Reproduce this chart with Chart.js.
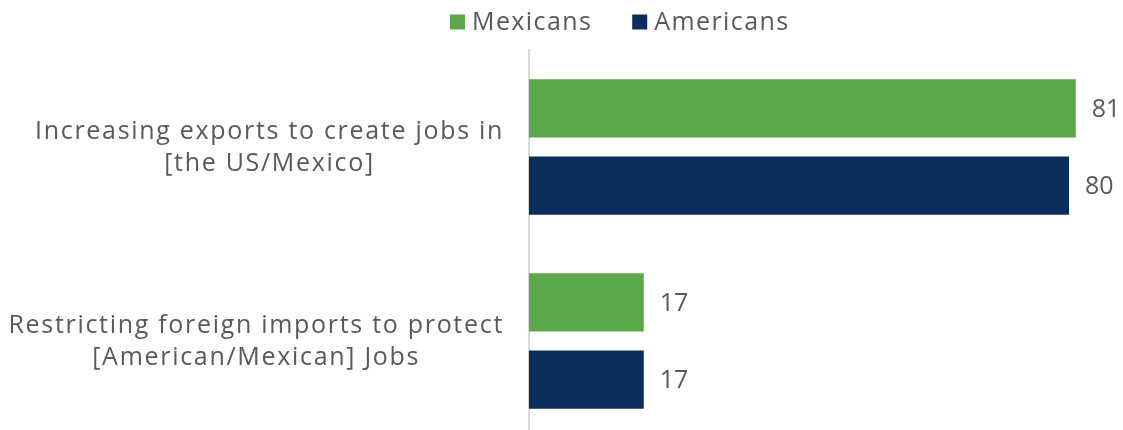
<!DOCTYPE html>
<html>
<head>
<meta charset="utf-8">
<script src="https://cdn.jsdelivr.net/npm/chart.js@4/dist/chart.umd.min.js"></script>
<style>
  html, body { margin: 0; padding: 0; background: #fff; overflow: hidden; }
  #wrap { position: relative; width: 1123px; height: 438px; }
</style>
</head>
<body>
<div id="wrap"><canvas id="chart"></canvas></div>
<script>
const categories = [
  ["Increasing exports to create jobs in", "[the US/Mexico]"],
  ["Restricting foreign imports to protect", "[American/Mexican] Jobs"],
];
const seriesNames = ["Mexicans", "Americans"];
const mexicans = [81, 17];
const americans = [80, 17];

const green = "#5ba84a";
const navy = "#0a2d5e";
const textColor = "#595959";
const fontFamily = "'Open Sans', sans-serif";

// category labels: each block right-aligned to the axis, lines centred within it
const categoryLabels = {
  id: "categoryLabels",
  afterDraw(chart) {
    const { ctx } = chart;
    const yScale = chart.scales.y;
    const right = yScale.right - 25;
    ctx.save();
    ctx.font = `25px ${fontFamily}`;
    ctx.letterSpacing = "1.7px";
    ctx.fillStyle = textColor;
    ctx.textAlign = "center";
    ctx.textBaseline = "middle";
    categories.forEach((lines, i) => {
      const y = yScale.getPixelForTick(i);
      const widest = Math.max(...lines.map((l) => ctx.measureText(l).width));
      const cx = right - widest / 2;
      const lineHeight = 32;
      lines.forEach((line, j) => {
        ctx.fillText(line, cx, y + 1 + (j - (lines.length - 1) / 2) * lineHeight);
      });
    });
    ctx.restore();
  },
};

// value labels to the right of every bar
const valueLabels = {
  id: "valueLabels",
  afterDatasetsDraw(chart) {
    const { ctx } = chart;
    ctx.save();
    ctx.font = `25px ${fontFamily}`;
    ctx.fillStyle = textColor;
    ctx.textAlign = "left";
    ctx.textBaseline = "middle";
    chart.data.datasets.forEach((ds, di) => {
      chart.getDatasetMeta(di).data.forEach((bar, i) => {
        ctx.fillText(String(ds.data[i]), bar.x + 16, bar.y + 1);
      });
    });
    ctx.restore();
  },
};

// legend row above the plot
const topLegend = {
  id: "topLegend",
  afterDraw(chart) {
    const { ctx } = chart;
    ctx.save();
    ctx.font = `25px ${fontFamily}`;
    ctx.letterSpacing = "1.4px";
    ctx.textBaseline = "middle";
    ctx.textAlign = "left";
    const box = 15;
    const gapText = 7;
    const gapItem = 40;
    const widths = chart.data.datasets.map((ds) => box + gapText + ctx.measureText(ds.label).width);
    let x = 450;
    const y = 22;
    chart.data.datasets.forEach((ds, i) => {
      ctx.fillStyle = ds.backgroundColor;
      ctx.fillRect(x, y - box / 2, box, box);
      ctx.fillStyle = textColor;
      ctx.fillText(ds.label, x + box + gapText, y + 1);
      x += widths[i] + gapItem;
    });
    ctx.restore();
  },
};

new Chart(document.getElementById("chart"), {
  type: "bar",
  data: {
    labels: categories,
    datasets: [
      { label: seriesNames[0], data: mexicans, backgroundColor: green },
      { label: seriesNames[1], data: americans, backgroundColor: navy },
    ],
  },
  options: {
    indexAxis: "y",
    responsive: true,
    maintainAspectRatio: false,
    animation: false,
    layout: { padding: { top: 50, right: 0, bottom: 0, left: 0 } },
    datasets: {
      bar: { categoryPercentage: 0.796, barPercentage: 0.753 },
    },
    plugins: {
      legend: { display: false },
      tooltip: { enabled: false },
    },
    scales: {
      x: {
        display: false,
        min: 0,
        max: 88,
      },
      y: {
        grid: { display: false },
        border: { display: true, color: "#d9d9d9", width: 2 },
        ticks: { display: false },
        afterFit: (scale) => {
          scale.width = 529;
        },
      },
    },
  },
  plugins: [categoryLabels, valueLabels, topLegend],
});
</script>
</body>
</html>
